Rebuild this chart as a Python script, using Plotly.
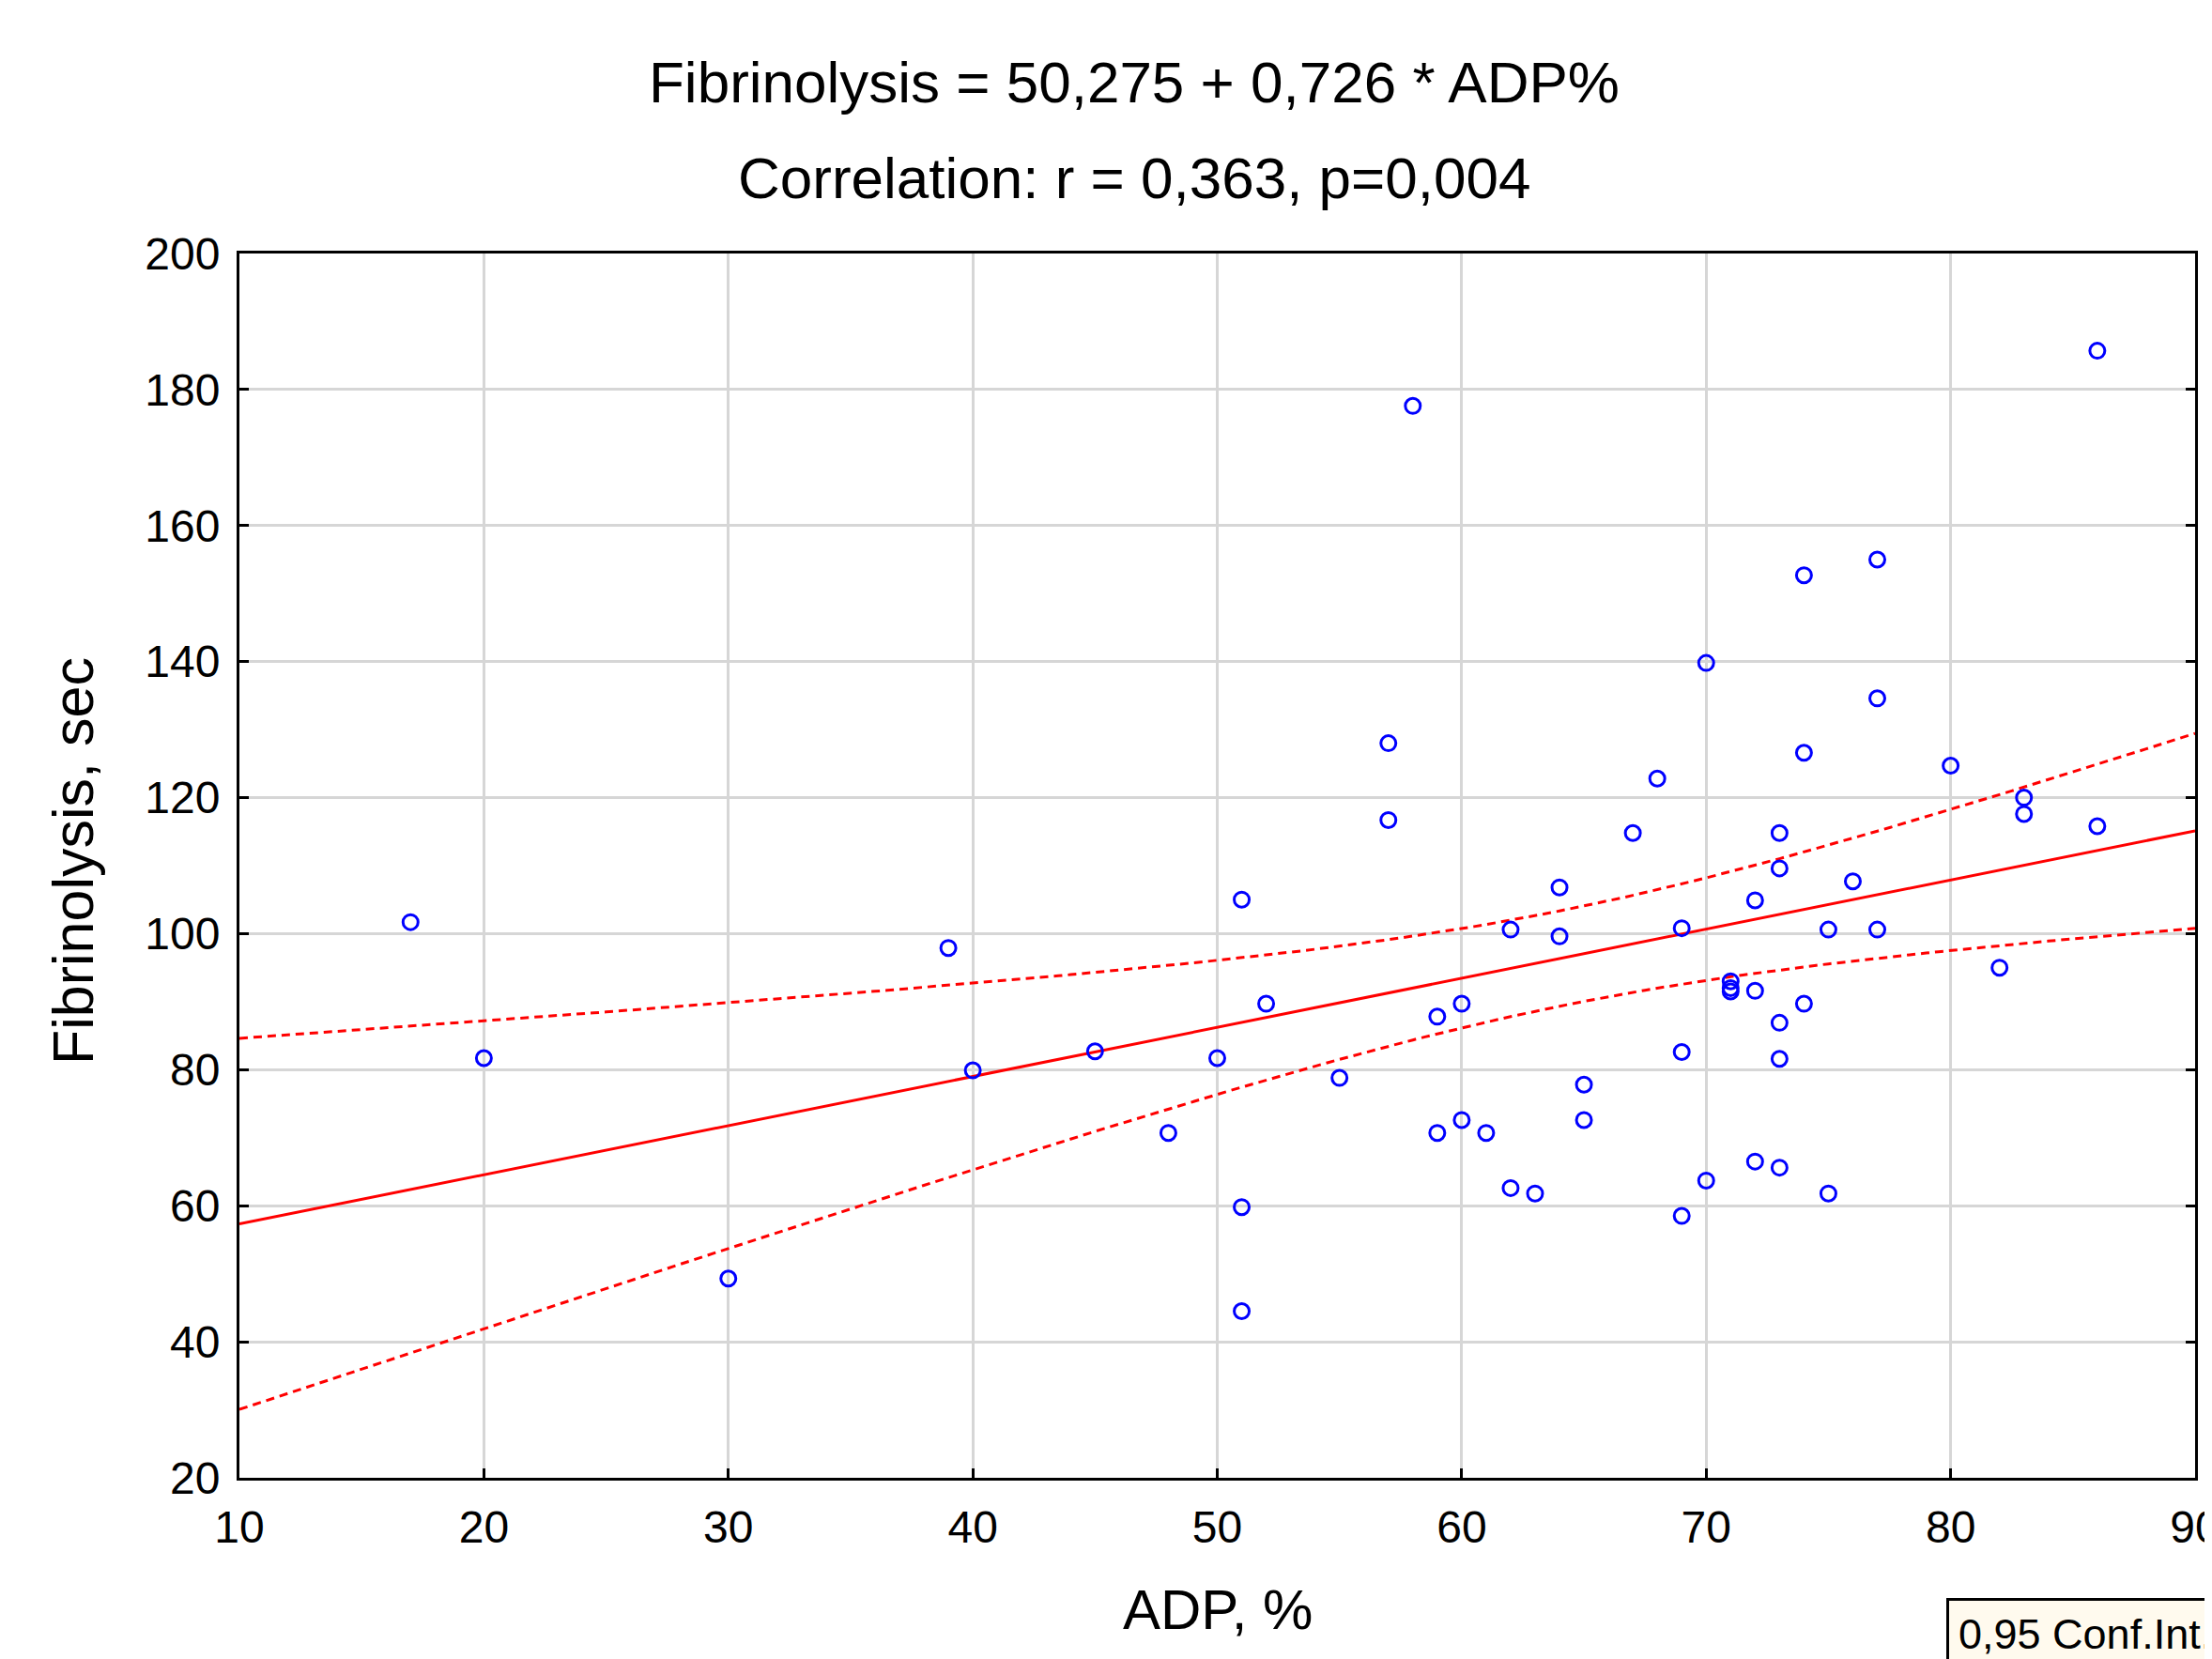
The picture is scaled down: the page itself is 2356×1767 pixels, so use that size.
import numpy as np
import plotly.graph_objects as go

# ---- data ----
ADP = [17, 20, 30, 39, 40, 45, 48, 50, 51, 51, 51, 52, 55, 57, 57, 58, 59, 59,
       60, 60, 61, 62, 62, 63, 64, 64, 65, 65, 67, 68, 69, 69, 69, 70, 70,
       71, 71, 71, 72, 72, 72, 73, 73, 73, 73, 73, 74, 74, 74, 75, 75, 76,
       77, 77, 77, 80, 82, 83, 83, 86, 86]
FIB = [101.7, 81.7, 49.3, 97.9, 79.9, 82.7, 70.7, 81.7, 105.0, 59.8, 44.5, 89.7,
       78.8, 128.0, 116.7, 177.6, 87.8, 70.7, 89.7, 72.6, 70.7, 100.6, 62.6, 61.8,
       106.8, 99.6, 77.8, 72.6, 114.8, 122.8, 100.8, 82.6, 58.5, 139.8, 63.7,
       93.0, 92.0, 91.5, 104.9, 91.6, 66.5, 114.8, 109.6, 86.9, 81.6, 65.6,
       152.7, 126.6, 89.7, 100.6, 61.8, 107.7, 155.0, 134.6, 100.6, 124.7, 95.0,
       120.0, 117.6, 115.8, 185.7]

X_TICKS = [10, 20, 30, 40, 50, 60, 70, 80, 90]
Y_TICKS = [20, 40, 60, 80, 100, 120, 140, 160, 180, 200]

TITLE_1 = "Fibrinolysis = 50,275 + 0,726 * ADP%"
TITLE_2 = "Correlation: r = 0,363, p=0,004"
X_TITLE = "ADP, %"
Y_TITLE = "Fibrinolysis, sec"
LEGEND_TEXT = "0,95 Conf.Int."
T_CRIT = 2.001  # t(0.975, n-2)

# ---- regression and 95% confidence band from the data ----
x = np.array(ADP, dtype=float)
y = np.array(FIB, dtype=float)
n = len(x)
b1, b0 = np.polyfit(x, y, 1)
resid = y - (b0 + b1 * x)
s = np.sqrt(np.sum(resid ** 2) / (n - 2))
xbar = x.mean()
sxx = np.sum((x - xbar) ** 2)
xg = np.linspace(X_TICKS[0], X_TICKS[-1], 161)
yg = b0 + b1 * xg
half = T_CRIT * s * np.sqrt(1.0 / n + (xg - xbar) ** 2 / sxx)

FONT = "Liberation Sans, Arial, sans-serif"
RED = "#FF0000"
BLUE = "#0000FF"

fig = go.Figure()
fig.add_trace(go.Scatter(x=xg, y=yg + half, mode="lines",
                         line=dict(color=RED, width=3, dash="9px,6px"),
                         hoverinfo="skip"))
fig.add_trace(go.Scatter(x=xg, y=yg - half, mode="lines",
                         line=dict(color=RED, width=3, dash="9px,6px"),
                         hoverinfo="skip"))
fig.add_trace(go.Scatter(x=xg, y=yg, mode="lines",
                         line=dict(color=RED, width=3)))
fig.add_trace(go.Scatter(x=ADP, y=FIB, mode="markers",
                         marker=dict(symbol="circle-open", size=16,
                                     color=BLUE, line=dict(color=BLUE, width=3))))

# page is offset by the browser's default 8px body margin
OFF = 8
W, H = 2356 - OFF, 1767 - OFF
L, T = 255 - OFF, 270 - OFF
R = W - (2338 - OFF)
B = H - (1574 - OFF)
PW, PH = W - L - R, H - T - B


def px_x(px):  # page pixel -> paper
    return (px - OFF - L) / PW


def px_y(py):
    return (H - B - (py - OFF)) / PH


axis_common = dict(showline=True, linecolor="black", linewidth=3,
                   showgrid=True, gridcolor="#D6D6D6", gridwidth=3,
                   zeroline=False, ticks="inside", ticklen=10, tickwidth=3,
                   tickcolor="black", ticklabeloverflow="allow",
                   automargin=False,
                   tickfont=dict(family=FONT, size=48, color="black"))

fig.update_layout(
    width=W, height=H,
    margin=dict(l=L, r=R, t=T, b=B, autoexpand=False),
    paper_bgcolor="white", plot_bgcolor="white",
    showlegend=False,
    xaxis=dict(range=[X_TICKS[0], X_TICKS[-1]], tickvals=X_TICKS,
               mirror=True, ticklabelstandoff=8, **axis_common),
    yaxis=dict(range=[Y_TICKS[0], Y_TICKS[-1]], tickvals=Y_TICKS,
               mirror="ticks", ticklabelstandoff=8, **axis_common),
    annotations=[
        dict(text=TITLE_1, xref="paper", yref="paper", x=px_x(1208), y=px_y(124),
             xanchor="center", yanchor="bottom", showarrow=False,
             font=dict(family=FONT, size=62, color="black")),
        dict(text=TITLE_2, xref="paper", yref="paper", x=px_x(1208), y=px_y(226),
             xanchor="center", yanchor="bottom", showarrow=False,
             font=dict(family=FONT, size=62, color="black")),
        dict(text=X_TITLE, xref="paper", yref="paper", x=0.5, y=px_y(1750),
             xanchor="center", yanchor="bottom", showarrow=False,
             font=dict(family=FONT, size=60, color="black")),
        dict(text=Y_TITLE, xref="paper", yref="paper", x=px_x(78), y=px_y(917),
             xanchor="center", yanchor="middle", textangle=-90, showarrow=False,
             font=dict(family=FONT, size=61, color="black")),
        dict(text=LEGEND_TEXT, xref="paper", yref="paper", x=px_x(2073), y=px_y(1702),
             xanchor="left", yanchor="top", showarrow=False, align="left",
             bgcolor="#FFFAEE", bordercolor="black", borderwidth=3, borderpad=10,
             font=dict(family=FONT, size=45, color="black")),
    ],
)

fig.write_html("out.html")
